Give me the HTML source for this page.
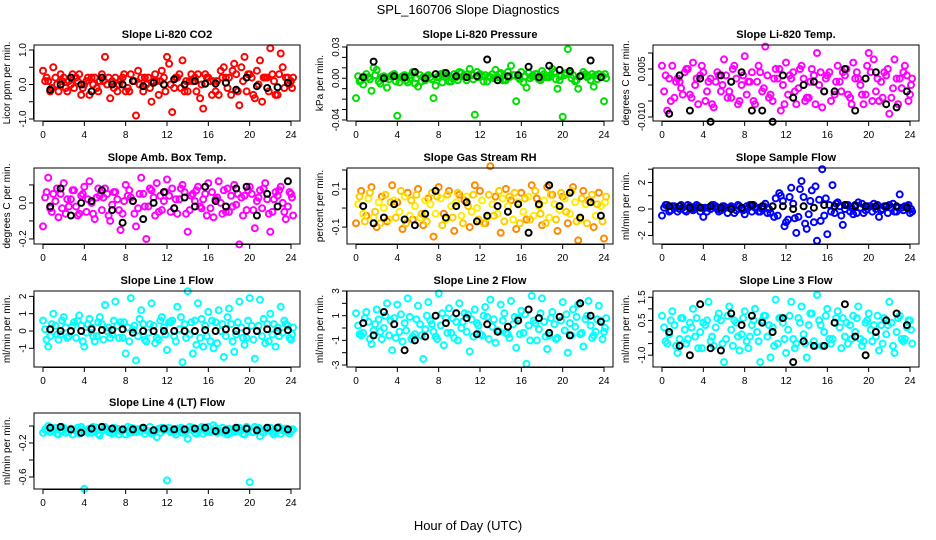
<!DOCTYPE html>
<html><head><meta charset="utf-8"><style>
html,body{margin:0;padding:0;background:#fff;}
svg{display:block;font-family:"Liberation Sans",sans-serif;}
</style></head><body>
<svg id="chart" width="936" height="540" viewBox="0 0 936 540">
<text x="468" y="14" text-anchor="middle" font-size="13">SPL_160706  Slope Diagnostics</text>
<text x="468" y="530" text-anchor="middle" font-size="13">Hour of Day (UTC)</text>
</svg>
<script>
const hoursA = [0,0.5,1,1.5,2,2.5,3,3.5,4,4.5,5,5.5,6,6.5,7,7.5,8,8.5,9,9.5,10,10.5,11,11.5,12,12.5,13,13.5,14,14.5,15,15.5,16,16.5,17,17.5,18,18.5,19,19.5,20,20.5,21,21.5,22,22.5,23,23.5,24];
const hoursB = [0.2,0.7,1.2,1.7,2.2,2.7,3.2,3.7,4.2,4.7,5.2,5.7,6.2,6.7,7.2,7.7,8.2,8.7,9.2,9.7,10.2,10.7,11.2,11.7,12.2,12.7,13.2,13.7,14.2,14.7,15.2,15.7,16.2,16.7,17.2,17.7,18.2,18.7,19.2,19.7,20.2,20.7,21.2,21.7,22.2,22.7,23.2,23.7,24.1];
const hoursC = [0.35,0.85,1.35,1.85,2.35,2.85,3.35,3.85,4.35,4.85,5.35,5.85,6.35,6.85,7.35,7.85,8.35,8.85,9.35,9.85,10.35,10.85,11.35,11.85,12.35,12.85,13.35,13.85,14.35,14.85,15.35,15.85,16.35,16.85,17.35,17.85,18.35,18.85,19.35,19.85,20.35,20.85,21.35,21.85,22.35,22.85,23.35,23.85,24.2];
const hoursBlk = [0.7,1.7,2.7,3.7,4.7,5.7,6.7,7.7,8.7,9.7,10.7,11.7,12.7,13.7,14.7,15.7,16.7,17.7,18.7,19.7,20.7,21.7,22.7,23.7];
const xTicks = [0,4,8,12,16,20,24];

const co2A = [0.4,0.1,0.5,-0.2,0.2,0.1,-0.1,0.3,0.0,-0.3,0.2,0.1,0.8,-0.4,0.2,0.1,-0.2,0.3,-0.9,0.2,0.0,-0.5,0.1,0.4,0.8,-0.8,0.2,0.7,-0.2,0.1,0.3,-0.7,0.2,0.1,-0.3,0.5,0.2,0.6,-0.6,0.8,0.3,-0.4,0.7,0.2,1.05,-0.3,0.9,0.2,0.1];
const co2B = [0.1,-0.2,0.2,0.3,-0.1,0.0,0.2,-0.3,0.1,0.2,-0.1,0.3,0.0,0.1,-0.2,0.2,-0.1,0.1,0.4,-0.2,0.2,0.1,-0.3,0.2,0.6,-0.1,0.3,-0.2,0.1,0.2,-0.4,0.3,0.1,-0.2,0.4,0.2,-0.3,0.3,0.5,-0.2,0.2,0.4,-0.5,0.2,0.3,-0.3,0.5,0.2,-0.1];
const co2C = [0.2,-0.1,0.0,0.1,-0.2,0.3,0.1,-0.1,0.2,0.0,-0.2,0.1,0.2,-0.1,0.0,0.3,-0.2,0.1,0.0,0.2,-0.1,0.3,0.1,-0.2,0.0,0.2,-0.1,0.1,0.3,-0.2,0.0,0.2,-0.3,0.1,0.2,-0.1,0.4,-0.2,0.1,0.3,-0.3,0.0,0.2,-0.2,0.1,0.3,-0.1,0.0,0.2];
const co2Blk = [-0.15,0.0,0.2,0.0,-0.2,0.2,0.0,0.0,0.1,-0.05,0.05,0.0,0.15,0.0,0.1,0.02,0.03,0.05,-0.15,0.2,-0.05,-0.1,-0.08,0.05];

const presA = [-0.019,-0.002,0.004,-0.012,0.008,0.001,-0.009,0.003,-0.036,0.002,-0.004,0.006,-0.008,0.001,0.003,-0.019,0.002,0.005,-0.003,0.004,0.006,0.002,0.009,-0.035,0.004,0.003,0.001,0.008,0.005,-0.002,0.012,-0.022,0.006,-0.009,0.002,0.004,0.007,0.001,0.009,-0.010,-0.037,0.028,0.003,-0.010,0.006,0.002,-0.008,0.004,-0.022];
const presB = [0.002,-0.006,0.001,0.010,-0.003,0.002,-0.001,0.004,-0.004,0.003,0.000,-0.005,0.003,-0.002,0.001,-0.007,0.004,0.002,-0.003,0.001,0.005,-0.002,0.003,0.006,0.002,-0.003,0.004,0.001,-0.002,0.006,0.003,0.001,-0.004,0.005,0.002,-0.001,0.004,0.001,0.006,-0.002,0.003,0.005,-0.003,0.002,0.004,-0.002,0.003,0.001,0.004];
const presC = [-0.003,0.001,-0.001,0.003,-0.005,0.000,0.002,-0.003,0.001,-0.002,0.003,0.000,-0.003,0.002,-0.001,0.001,-0.004,0.003,0.000,-0.002,0.002,0.004,-0.001,0.001,-0.003,0.002,0.000,0.004,-0.002,0.001,0.003,-0.001,0.002,0.000,0.004,-0.002,0.001,0.003,-0.001,0.002,0.005,0.000,-0.002,0.003,0.001,0.004,-0.001,0.002,0.000];
const presBlk = [0.001,0.016,0.000,0.002,0.001,0.006,0.000,0.004,0.005,0.002,0.001,0.002,0.018,-0.002,0.002,0.003,0.011,0.001,0.012,0.008,0.007,0.002,0.017,0.001];

const tempA = [0.006,-0.008,0.006,0.002,-0.003,0.005,0.007,-0.006,0.004,0.001,-0.007,0.003,0.008,-0.002,0.006,-0.005,0.009,0.001,-0.006,0.004,0.012,-0.003,0.005,-0.008,0.007,0.002,-0.006,0.006,-0.004,0.005,0.010,-0.007,0.003,-0.012,0.006,0.004,-0.003,0.007,0.002,-0.006,0.010,0.008,-0.005,0.004,-0.009,0.008,0.002,0.006,-0.003];
const tempB = [-0.002,0.002,-0.004,0.001,0.004,-0.003,0.000,0.003,-0.005,0.002,0.001,-0.002,0.003,-0.004,0.002,0.000,-0.003,0.004,0.001,-0.002,0.003,-0.005,0.002,0.000,-0.003,0.004,-0.001,0.002,-0.004,0.003,0.000,-0.002,0.004,-0.003,0.001,0.003,-0.004,0.002,0.000,-0.003,0.004,-0.002,0.001,0.003,-0.004,0.002,-0.001,0.003,0.000];
const tempC = [0.003,-0.005,0.001,-0.001,0.005,-0.004,0.002,0.006,-0.002,-0.006,0.004,0.000,-0.004,0.005,-0.006,0.003,0.001,-0.005,0.006,-0.001,-0.004,0.002,0.005,-0.006,0.003,-0.002,0.005,-0.005,0.001,-0.006,0.004,0.002,-0.005,0.001,-0.002,0.005,-0.006,0.004,-0.003,0.006,-0.005,0.002,-0.004,0.005,-0.001,-0.006,0.004,-0.005,0.002];
const tempBlk = [-0.009,0.003,-0.008,0.002,-0.0115,0.003,0.001,0.004,-0.008,-0.008,-0.0115,0.003,-0.004,0.000,0.001,-0.002,-0.002,0.005,-0.008,0.002,0.004,-0.006,-0.007,-0.002];

const ambA = [-0.13,0.14,0.05,-0.08,0.11,-0.02,0.07,-0.06,0.09,0.12,-0.09,0.04,0.08,-0.10,0.06,-0.15,0.10,0.03,-0.13,0.14,-0.20,0.07,0.11,-0.04,0.13,0.08,-0.06,0.10,-0.16,0.05,0.09,0.02,0.11,-0.08,0.12,0.07,-0.05,0.10,-0.23,0.04,0.09,-0.14,0.07,0.11,-0.16,0.06,0.09,-0.09,0.05];
const ambB = [0.03,-0.03,0.01,0.05,-0.06,0.02,-0.02,0.04,-0.05,0.00,0.03,-0.04,0.05,-0.01,0.02,-0.06,0.04,0.01,-0.03,0.05,-0.02,0.03,-0.05,0.01,0.04,-0.03,0.02,0.06,-0.04,0.01,-0.02,0.05,-0.03,0.02,0.00,-0.05,0.04,-0.01,0.03,-0.04,0.05,0.01,-0.03,0.02,-0.05,0.04,0.00,-0.02,0.03];
const ambC = [0.06,-0.05,0.08,-0.03,0.02,0.07,-0.07,0.05,0.02,-0.06,0.08,0.03,-0.07,0.06,-0.04,0.01,0.07,-0.06,0.05,-0.02,0.08,-0.07,0.04,0.06,-0.05,0.02,0.08,-0.06,0.04,0.07,-0.03,-0.07,0.06,0.03,-0.06,0.08,-0.02,0.05,-0.07,0.07,-0.04,0.03,0.08,-0.06,0.02,0.07,-0.05,0.06,-0.07];
const ambBlk = [-0.02,0.08,-0.07,0.00,0.01,0.07,-0.04,-0.11,0.01,-0.09,0.00,0.06,-0.03,0.03,-0.02,0.09,0.01,-0.02,0.08,0.09,-0.07,0.05,-0.02,0.12];

const rhA = [-0.08,0.09,-0.04,0.11,-0.10,0.06,-0.07,0.12,0.03,-0.11,0.08,-0.06,0.10,-0.09,0.05,-0.15,0.11,-0.03,0.09,-0.12,0.07,0.04,-0.10,0.12,0.09,-0.08,0.22,0.06,-0.13,0.10,0.04,-0.11,0.08,-0.06,0.12,0.05,-0.09,0.11,0.07,-0.12,0.06,-0.08,0.11,-0.17,0.09,0.04,-0.10,0.08,-0.16];
const rhB = [0.02,-0.03,0.05,-0.05,0.03,0.00,-0.06,0.04,-0.02,0.06,-0.04,0.01,-0.05,0.04,0.02,-0.03,0.05,-0.06,0.01,0.03,-0.04,0.06,-0.02,0.00,0.04,-0.05,0.02,-0.03,0.05,0.01,-0.06,0.03,-0.02,0.06,-0.04,0.01,0.04,-0.05,0.02,-0.01,0.05,-0.03,0.03,-0.06,0.02,0.04,-0.04,0.01,0.03];
const rhC = [0.06,-0.07,0.08,-0.02,-0.08,0.07,0.03,-0.05,0.09,-0.08,0.04,0.07,-0.03,-0.07,0.08,0.06,-0.09,0.07,-0.05,0.08,-0.08,0.01,0.07,-0.06,-0.08,0.07,-0.04,0.09,-0.07,0.06,0.08,-0.08,0.05,-0.06,0.09,-0.03,-0.08,0.07,-0.06,0.08,-0.02,0.09,-0.07,0.05,-0.08,0.07,0.02,-0.07,0.06];
const rhBlk = [0.01,-0.08,-0.05,0.02,-0.06,-0.09,-0.03,0.09,-0.05,0.01,0.03,-0.07,-0.04,0.01,-0.02,0.02,-0.13,0.02,0.12,0.01,0.08,-0.05,0.03,-0.04];

const sfA = [-0.5,0.3,0.2,-0.2,0.1,0.3,-0.1,0.2,-0.6,0.1,0.3,-0.2,0.2,0.1,-0.3,0.2,-0.4,0.3,0.1,-0.2,0.4,-0.3,0.8,1.0,-1.0,1.6,-1.8,2.1,-1.5,1.4,-2.4,3.0,-1.9,1.8,0.5,-1.2,0.3,-0.4,0.5,-0.3,0.2,0.4,-0.6,0.2,0.3,-0.2,1.1,0.2,-0.3];
const sfB = [0.1,-0.2,0.2,0.0,-0.1,0.2,0.1,-0.2,0.1,0.0,0.2,-0.1,0.1,0.2,-0.1,0.0,0.2,-0.2,0.1,0.0,-0.3,0.2,-0.5,0.6,-0.8,0.4,-0.6,0.9,-0.4,-1.0,0.7,-0.5,0.3,-0.3,0.2,0.0,-0.2,0.3,0.1,-0.1,0.2,0.0,-0.1,0.2,0.1,-0.2,0.1,0.2,0.0];
const sfC = [0.3,-0.1,0.1,0.3,-0.2,0.0,0.3,0.1,-0.2,0.3,0.0,0.2,-0.3,0.1,0.3,-0.1,0.1,0.3,-0.2,0.2,0.0,-0.6,1.2,-1.3,0.9,-0.7,1.5,-1.1,0.6,1.7,-0.9,0.8,-0.2,0.4,-0.5,0.3,0.1,-0.3,0.4,0.2,-0.2,0.3,0.0,-0.3,0.4,0.1,-0.1,0.3,-0.2];
const sfBlk = [0.2,0.2,0.1,0.1,0.2,0.1,0.0,0.1,0.3,0.2,0.2,0.2,0.0,0.2,0.1,0.3,0.2,0.3,0.2,0.2,0.2,0.2,0.2,0.1];

const l1A = [0.6,-0.9,1.0,-0.5,0.8,-0.3,0.5,0.9,-0.9,0.7,-0.6,0.8,1.5,-0.4,1.7,0.5,-1.3,1.9,-1.7,1.2,-0.6,1.6,-0.4,0.8,-1.1,0.6,1.4,-1.8,2.3,-1.3,1.6,-0.9,1.1,-1.0,1.2,-1.5,1.3,-1.2,1.7,-0.8,1.9,-1.6,1.8,-0.7,1.0,-0.9,1.4,0.4,-0.5];
const l1B = [0.1,-0.3,0.3,-0.2,0.2,0.0,-0.4,0.3,-0.1,0.2,-0.3,0.4,0.0,-0.2,0.3,-0.4,0.2,0.1,-0.3,0.4,-0.1,0.3,-0.5,0.2,0.5,-0.3,0.1,0.4,-0.2,0.6,-0.4,0.3,-0.6,0.5,0.0,-0.3,0.4,-0.2,0.2,-0.4,0.3,0.0,-0.3,0.4,-0.2,0.2,-0.1,0.3,-0.2];
const l1C = [-0.5,0.4,-0.2,0.6,-0.4,0.3,0.6,-0.6,0.4,-0.3,0.5,-0.5,0.2,0.6,-0.4,0.5,-0.6,0.3,0.7,-0.5,0.4,-0.7,0.6,-0.2,0.5,-0.6,0.8,-0.4,0.5,-0.8,0.7,-0.3,0.6,-0.7,0.4,0.8,-0.6,0.5,-0.4,0.6,-0.5,0.3,0.7,-0.6,0.4,-0.3,0.6,-0.4,0.2];
const l1Blk = [0.1,0.0,0.0,0.0,0.1,0.05,0.05,0.1,-0.1,0.0,0.0,0.0,0.0,0.0,0.0,0.05,0.0,0.1,0.0,0.0,0.0,0.1,0.0,0.05];

const l2A = [1.2,-0.6,1.3,-1.3,1.5,-0.9,2.0,-1.8,1.9,-1.1,2.4,-0.7,1.8,-2.5,2.1,-0.3,2.8,-1.4,1.6,-0.8,2.0,1.2,-1.9,1.5,-0.5,1.7,2.3,-1.2,1.9,-0.4,2.2,-1.6,1.4,-2.9,2.6,-1.0,2.4,-1.7,1.3,-0.8,2.1,-2.0,1.5,1.9,-1.5,2.2,-0.6,1.8,-0.3];
const l2B = [0.2,-0.4,0.5,-0.2,0.7,0.0,-0.6,0.8,-0.3,0.4,0.9,-0.5,0.3,-0.1,0.6,-0.7,0.2,0.8,-0.4,0.5,0.0,-0.3,0.7,0.4,-0.6,0.9,0.1,-0.2,0.6,-0.5,0.3,0.8,-0.4,0.2,0.6,-0.1,0.5,-0.6,0.3,0.9,-0.2,0.4,0.1,-0.5,0.7,0.2,-0.3,0.6,0.0];
const l2C = [-0.5,0.8,-0.9,0.3,-0.3,1.0,0.6,-0.8,1.1,-0.2,-0.9,0.7,-0.6,1.0,0.3,-0.9,1.2,-0.4,0.8,-1.0,0.5,1.1,-0.7,0.2,1.0,-0.9,0.7,-0.3,1.2,-0.8,0.9,-0.5,1.1,-1.0,0.4,1.2,-0.7,0.8,-0.9,0.6,1.1,-0.6,0.9,-0.4,1.0,-0.8,0.7,-0.9,0.8];
const l2Blk = [0.4,-0.6,1.3,0.3,-1.8,-1.0,-0.7,1.0,0.4,1.2,0.8,-0.5,0.3,-0.3,0.1,0.6,1.5,0.8,-0.4,0.9,-0.6,2.0,1.0,0.5];

const l3A = [0.7,-0.5,0.9,-0.9,0.6,-0.3,1.0,-0.7,0.4,1.3,-0.6,0.8,-1.3,1.1,0.5,-0.8,0.9,-0.2,1.0,-1.3,0.7,-1.1,1.4,0.6,-0.9,1.3,-0.5,1.1,-1.1,0.8,1.6,-0.6,1.0,-0.3,0.9,0.6,-0.5,0.7,1.1,-0.4,0.8,0.3,-0.8,0.6,1.3,-0.9,0.7,-0.3,0.5];
const l3B = [0.2,-0.1,0.3,-0.3,0.1,0.4,-0.2,0.0,0.3,-0.4,0.2,0.5,-0.3,0.1,0.4,-0.1,-0.4,0.3,0.0,0.5,-0.2,0.2,-0.5,0.4,0.1,-0.3,0.6,-0.1,0.3,-0.4,0.5,0.0,-0.3,0.4,0.2,-0.2,0.3,0.0,-0.3,0.4,0.1,-0.2,0.3,-0.1,0.4,0.0,-0.3,0.2,0.1];
const l3C = [-0.4,0.5,-0.6,0.6,-0.5,0.2,0.6,-0.7,0.5,-0.2,0.6,-0.5,0.7,-0.6,-0.2,0.6,-0.7,0.5,-0.4,0.7,0.3,-0.6,0.6,-0.3,0.7,-0.7,0.4,-0.5,0.8,-0.6,0.3,0.7,-0.5,0.6,-0.7,0.4,-0.3,0.6,-0.6,0.5,-0.4,0.7,-0.5,0.3,-0.6,0.6,-0.4,0.5,-0.5];
const l3Blk = [0.0,-0.6,-1.0,1.2,-0.7,-0.8,0.8,0.3,0.7,0.4,0.0,0.6,-1.3,-0.4,-0.6,-0.6,0.4,1.2,-0.2,-1.0,0.0,0.5,0.8,0.3];

const l4A = [-0.08,0.0,-0.05,-0.10,-0.02,-0.07,-0.04,-0.09,-0.74,-0.03,-0.06,-0.11,-0.01,-0.08,-0.04,-0.06,-0.10,-0.02,-0.07,-0.03,-0.05,-0.09,-0.13,-0.02,-0.64,-0.05,-0.03,-0.08,-0.15,-0.02,-0.06,-0.09,-0.01,0.01,-0.05,-0.08,-0.03,-0.07,-0.02,-0.10,-0.66,-0.01,-0.12,-0.04,-0.02,-0.07,-0.09,-0.03,-0.06];
const l4B = [-0.04,-0.07,-0.02,-0.05,-0.08,-0.03,-0.06,-0.01,-0.05,-0.08,-0.02,-0.06,-0.04,-0.09,-0.03,-0.05,-0.01,-0.07,-0.04,-0.02,-0.06,-0.08,-0.03,-0.05,-0.02,-0.07,-0.04,-0.06,-0.01,-0.08,-0.03,-0.05,-0.07,-0.02,-0.06,-0.04,-0.08,-0.03,-0.05,-0.01,-0.07,-0.04,-0.06,-0.02,-0.08,-0.03,-0.05,-0.06,-0.04];
const l4C = [-0.06,-0.03,-0.09,-0.01,-0.06,-0.10,-0.02,-0.05,-0.08,-0.01,-0.09,-0.04,-0.07,-0.02,-0.10,-0.04,-0.08,-0.03,-0.06,-0.09,-0.01,-0.05,-0.08,-0.03,-0.07,-0.10,-0.02,-0.06,-0.04,-0.09,-0.01,-0.07,-0.05,-0.08,-0.02,-0.10,-0.04,-0.06,-0.09,-0.03,-0.07,-0.02,-0.08,-0.05,-0.10,-0.01,-0.06,-0.09,-0.04];
const l4Blk = [-0.02,-0.01,-0.04,-0.08,-0.03,-0.01,-0.03,-0.04,-0.04,-0.02,-0.05,-0.03,-0.04,-0.04,-0.03,-0.02,-0.06,-0.05,-0.02,-0.03,-0.05,-0.02,-0.02,-0.04];

const titles = ["Slope Li-820 CO2","Slope Li-820 Pressure","Slope Li-820 Temp.","Slope Amb. Box Temp.","Slope Gas Stream RH","Slope Sample Flow","Slope Line 1 Flow","Slope Line 2 Flow","Slope Line 3 Flow","Slope Line 4 (LT) Flow"];
const yTitles = ["Licor ppm per min.","kPa per min.","degrees C per min.","degrees C per min.","percent per min.","ml/min per min.","ml/min per min.","ml/min per min.","ml/min per min.","ml/min per min."];
const yTickVals = [[-1,-0.5,0,0.5,1],[-0.04,-0.03,-0.02,-0.01,0,0.01,0.02,0.03],[-0.01,-0.005,0,0.005,0.01],[-0.2,-0.1,0,0.1],[-0.1,0,0.1,0.2],[-2,-1,0,1,2,3],[-1,0,1,2],[-3,-2,-1,0,1,2,3],[-1,-0.5,0,0.5,1,1.5],[-0.6,-0.4,-0.2,0]];
const yTickLabels = [["-1.0","","0.0","","1.0"],["-0.04","","","","0.00","","","0.03"],["-0.010","","","0.005",""],["-0.2","","0.0",""],["-0.1","","0.1",""],["-2","","0","","2",""],["-1","0","1","2"],["-3","","-1","","1","","3"],["-1.0","","","0.5","","1.5"],["-0.6","","-0.2",""]];
const yDomains = [[-1.058,1.145],[-0.041,0.0319],[-0.01125,0.0125],[-0.228,0.194],[-0.189,0.2105],[-2.64,3.09],[-2.08,2.31],[-3.16,3.0],[-1.51,1.77],[-0.741,0.153]];
const seriesA = [co2A,presA,tempA,ambA,rhA,sfA,l1A,l2A,l3A,l4A];
const seriesB = [co2B,presB,tempB,ambB,rhB,sfB,l1B,l2B,l3B,l4B];
const seriesC = [co2C,presC,tempC,ambC,rhC,sfC,l1C,l2C,l3C,l4C];
const seriesBlk = [co2Blk,presBlk,tempBlk,ambBlk,rhBlk,sfBlk,l1Blk,l2Blk,l3Blk,l4Blk];
const colorsA = ["#ff0000","#00dd00","#ff00ff","#ff00ff","#ff8800","#0000ff","#00ffff","#00ffff","#00ffff","#00ffff"];
const colorsB = ["#ff0000","#00dd00","#ff00ff","#ff00ff","#ffee00","#0000ff","#00ffff","#00ffff","#00ffff","#00ffff"];
const colorsC = ["#ff0000","#00dd00","#ff00ff","#ff00ff","#ffcc00","#0000ff","#00ffff","#00ffff","#00ffff","#00ffff"];

const NS = "http://www.w3.org/2000/svg";
const svg = document.getElementById("chart");
const boxLefts = [34,347,653];
const boxTops = [45,168,291,413];
const BW = 266, BH = 76;

function mk(tag, attrs, parent){
  const e = document.createElementNS(NS, tag);
  for (const k in attrs) e.setAttribute(k, attrs[k]);
  parent.appendChild(e);
  return e;
}

for (let p = 0; p < 10; p++){
  const L = boxLefts[p % 3], T = boxTops[Math.floor(p / 3)];
  const xs = h => L + 9 + h * 248 / 24;
  const dom = yDomains[p];
  const ys = v => T + BH - (v - dom[0]) / (dom[1] - dom[0]) * BH;
  const g = mk("g", {}, svg);
  
  

  const title = mk("text", {x: L + BW / 2, y: T - 7, "text-anchor": "middle", "font-size": "11", "font-weight": "bold"}, g);
  
  
  title.textContent = titles[p];

  const pts = mk("g", {}, g);
  
  
  const drawSeries = (hrs, vals, color, sw, nm) => {
    const sg = mk("g", {fill: "none", stroke: color, "stroke-width": sw}, pts);
    
    
    for (let i = 0; i < vals.length; i++){
      const y = ys(vals[i]);
      if (y < T - 2 || y > T + BH + 2) continue;
      const c = mk("circle", {cx: xs(hrs[i]).toFixed(1), cy: y.toFixed(1), r: 3}, sg);
      
      
    }
  };
  drawSeries(hoursA, seriesA[p], colorsA[p], 2, 'series-a');
  drawSeries(hoursB, seriesB[p], colorsB[p], 2, 'series-b');
  drawSeries(hoursC, seriesC[p], colorsC[p], 2, 'series-c');
  drawSeries(hoursBlk, seriesBlk[p], "#000", 2, 'series-hourly');

  const box = mk("rect", {x: L, y: T, width: BW, height: BH, fill: "none", stroke: "#000", "stroke-width": 1}, g);
  
  

  const xa = mk("g", {stroke: "#000", "stroke-width": 1}, g);
  
  
  mk("line", {x1: xs(xTicks[0]), x2: xs(xTicks[xTicks.length - 1]), y1: T + BH + 0.5, y2: T + BH + 0.5}, xa);
  for (const t of xTicks){
    mk("line", {x1: xs(t), x2: xs(t), y1: T + BH, y2: T + BH + 5}, xa);
    const lb = mk("text", {x: xs(t), y: T + BH + 17, "text-anchor": "middle", "font-size": "10", stroke: "none", fill: "#000"}, xa);
    
    
    lb.textContent = t;
  }

  const ya = mk("g", {stroke: "#000", "stroke-width": 1}, g);
  
  
  const tv = yTickVals[p];
  mk("line", {x1: L - 0.5, x2: L - 0.5, y1: ys(tv[0]), y2: ys(tv[tv.length - 1])}, ya);
  tv.forEach((v, i) => {
    const y = ys(v);
    mk("line", {x1: L - 5, x2: L, y1: y, y2: y}, ya);
    if (yTickLabels[p][i]){
      const lb = mk("text", {x: 0, y: 0, transform: `translate(${L - 8},${y}) rotate(-90)`, "text-anchor": "middle", "font-size": "10", stroke: "none", fill: "#000"}, ya);
      
      
      lb.textContent = yTickLabels[p][i];
    }
  });
  const yt = mk("text", {x: 0, y: 0, transform: `translate(${L - 24},${T + BH / 2}) rotate(-90)`, "text-anchor": "middle", "font-size": "10"}, g);
  
  
  yt.textContent = yTitles[p];
}
</script>
</body></html>
